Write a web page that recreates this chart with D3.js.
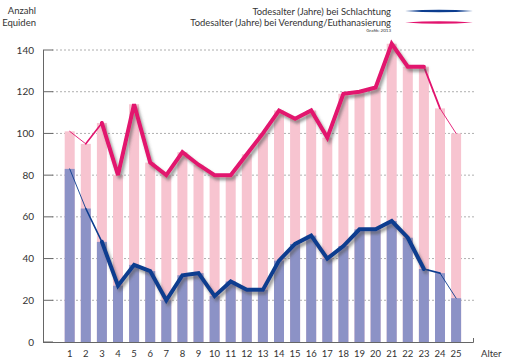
<!DOCTYPE html>
<html>
<head>
<meta charset="utf-8">
<script src="https://cdn.jsdelivr.net/npm/d3@7"></script>
<style>
  body { margin: 0; background: #fff; }
  svg text { font-family: Lato, "Open Sans", sans-serif; fill: #333; }
</style>
</head>
<body>
<div id="chart"></div>
<script>
// ages on the x axis
var ages = d3.range(1, 26);
// Todesalter bei Verendung/Euthanasierung
var verendung = [101, 95, 105, 80, 114, 86, 80, 91, 85, 80, 80, 90, 100, 111, 107, 111, 98, 119, 120, 122, 143, 132, 132, 112, 100];
// Todesalter bei Schlachtung
var schlachtung = [83, 64, 48, 27, 37, 34, 20, 32, 33, 22, 29, 25, 25, 39, 47, 51, 40, 46, 54, 54, 58, 50, 35, 33, 21];
var yTicks = [0, 20, 40, 60, 80, 100, 120, 140];
var legendLabels = ["Todesalter (Jahre) bei Schlachtung", "Todesalter (Jahre) bei Verendung/Euthanasierung"];

var width = 510, height = 364;
var pinkLine = "#e2136e", blueLine = "#0c3d8f",
    pinkBar = "#f7c4d0", blueBar = "#8c92c6";

var svg = d3.select("#chart").append("svg")
    .attr("width", width)
    .attr("height", height);

var defs = svg.append("defs");
defs.append("filter")
    .attr("id", "shadow")
    .attr("x", "-10%").attr("y", "-10%")
    .attr("width", "130%").attr("height", "130%")
  .append("feDropShadow")
    .attr("dx", 2).attr("dy", 3)
    .attr("stdDeviation", 1.6)
    .attr("flood-color", "#555")
    .attr("flood-opacity", 0.6);

var x = d3.scaleBand().domain(ages).range([61.65, 464.15]).padding(0);
var y = d3.scaleLinear().domain([0, 140]).range([342, 50]);
var cx = function (d, i) { return x(ages[i]) + x.bandwidth() / 2; };

/**
 * Grid + y axis
 */
var grid = svg.append("g");
grid.selectAll("line.grid")
    .data(yTicks.filter(function (d) { return d > 0; }))
    .enter().append("line")
    .attr("x1", 52).attr("x2", 476)
    .attr("y1", function (d) { return y(d); })
    .attr("y2", function (d) { return y(d); })
    .attr("stroke", "#9a9a9a")
    .attr("stroke-width", 0.8)
    .attr("stroke-dasharray", "2,2");

grid.selectAll("line.tick")
    .data(yTicks)
    .enter().append("line")
    .attr("x1", 43).attr("x2", 53)
    .attr("y1", function (d) { return y(d); })
    .attr("y2", function (d) { return y(d); })
    .attr("stroke", "#666")
    .attr("stroke-width", 1);

grid.selectAll("text")
    .data(yTicks)
    .enter().append("text")
    .attr("x", 34)
    .attr("y", function (d) { return y(d) + 3.5; })
    .attr("text-anchor", "end")
    .attr("font-size", 10)
    .text(function (d) { return d; });

/**
 * Bars
 */
var barW = 10;
svg.append("g").selectAll("rect")
    .data(verendung)
    .enter().append("rect")
    .attr("x", function (d, i) { return cx(d, i) - barW / 2; })
    .attr("y", function (d) { return y(d); })
    .attr("width", barW)
    .attr("height", function (d) { return y(0) - y(d); })
    .attr("fill", pinkBar);

svg.append("g").selectAll("rect")
    .data(schlachtung)
    .enter().append("rect")
    .attr("x", function (d, i) { return cx(d, i) - barW / 2; })
    .attr("y", function (d) { return y(d); })
    .attr("width", barW)
    .attr("height", function (d) { return y(0) - y(d); })
    .attr("fill", blueBar);

// axes lines
svg.append("line")
    .attr("x1", 43.5).attr("x2", 43.5).attr("y1", y(140)).attr("y2", y(0))
    .attr("stroke", "#666");
svg.append("line")
    .attr("x1", 43).attr("x2", 473.5).attr("y1", y(0) + 0.5).attr("y2", y(0) + 0.5)
    .attr("stroke", "#666");
svg.append("line")
    .attr("x1", 473.5).attr("x2", 473.5).attr("y1", y(0) - 4).attr("y2", y(0) + 0.5)
    .attr("stroke", "#666");

svg.append("g").selectAll("text")
    .data(ages)
    .enter().append("text")
    .attr("x", function (d, i) { return cx(d, i); })
    .attr("y", 357)
    .attr("text-anchor", "middle")
    .attr("font-size", 9.5)
    .text(function (d) { return d; });

svg.append("text").attr("x", 481).attr("y", 357)
    .attr("font-size", 9.5).text("Alter");

/**
 * Lines: tapering thin ends, thick shadowed middle
 */
function drawSeries(values, color) {
    var pts = values.map(function (d, i) { return [cx(d, i), y(d)]; });
    var line = d3.line();
    var g = svg.append("g");
    var n = pts.length;
    // thin ends
    var ends = [[0, 1, 0.9], [1, 2, 1.6], [n - 3, n - 2, 1.8], [n - 2, n - 1, 0.9]];
    ends.forEach(function (e) {
        g.append("path")
            .attr("d", line([pts[e[0]], pts[e[1]]]))
            .attr("fill", "none")
            .attr("stroke", color)
            .attr("stroke-width", e[2])
            .attr("stroke-linecap", "round");
    });
    g.append("path")
        .attr("d", line(pts.slice(2, n - 2)))
        .attr("fill", "none")
        .attr("stroke", color)
        .attr("stroke-width", 4)
        .attr("stroke-linejoin", "miter")
        .attr("stroke-miterlimit", 3)
        .attr("stroke-linecap", "round")
        .attr("filter", "url(#shadow)");
}
drawSeries(schlachtung, blueLine);
drawSeries(verendung, pinkLine);

/**
 * Header + legend
 */
svg.append("text").attr("x", 36).attr("y", 14).attr("text-anchor", "end")
    .attr("font-size", 9.5).text("Anzahl");
svg.append("text").attr("x", 36).attr("y", 26).attr("text-anchor", "end")
    .attr("font-size", 9.5).text("Equiden");

var legendColors = [blueLine, pinkLine];
legendLabels.forEach(function (label, i) {
    var ly = 11 + i * 11.5;
    svg.append("text").attr("x", 391).attr("y", ly + 3.5)
        .attr("text-anchor", "end").attr("font-size", 9.4).text(label);
    // lens shaped stroke
    svg.append("path")
        .attr("d", "M405," + ly + " Q439," + (ly - 2.6) + " 473," + ly + " Q439," + (ly + 2.6) + " 405," + ly + "Z")
        .attr("fill", legendColors[i]);
});
svg.append("text").attr("x", 391).attr("y", 32)
    .attr("text-anchor", "end").attr("font-size", 4.5).text("Grafik: 2013");
</script>
</body>
</html>
